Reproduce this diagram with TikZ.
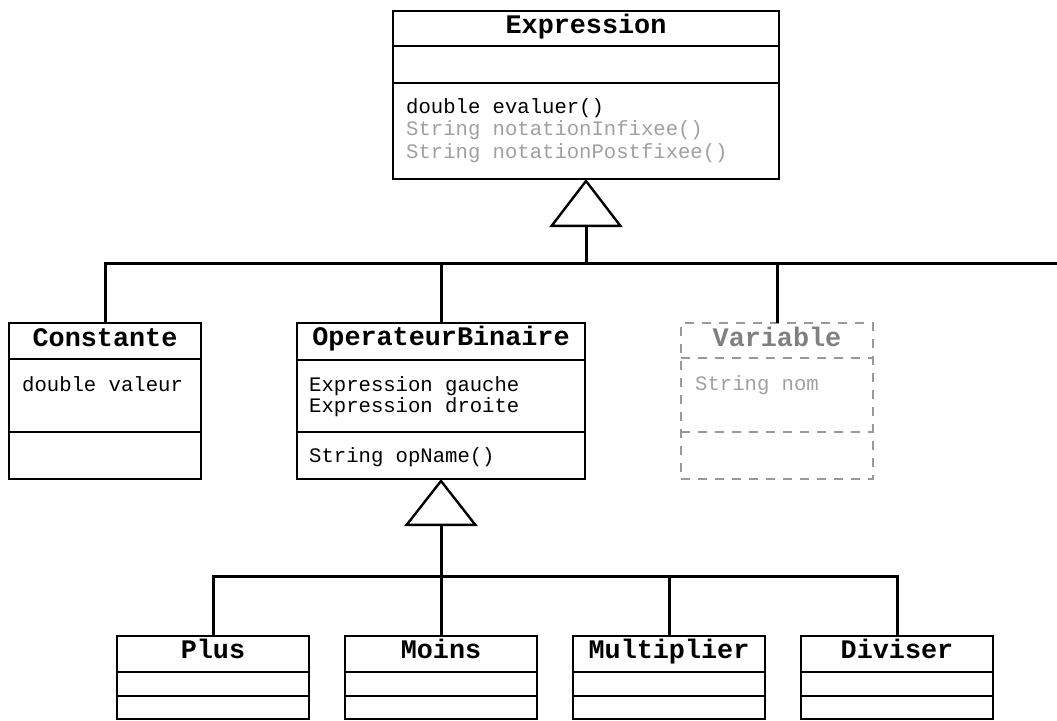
\documentclass[tikz,border=0pt]{standalone}
\usepackage{fontspec}
\setmainfont{Liberation Mono}
\usetikzlibrary{arrows.meta}
\definecolor{umlgray}{HTML}{A0A0A0}
\definecolor{umlvar}{HTML}{808080}
\definecolor{umldash}{HTML}{999999}
\begin{document}
\begin{tikzpicture}[x=1pt,y=-1pt,
  cls/.style={draw=black, line width=1.3pt, inner sep=0pt, outer sep=0pt, anchor=north west},
  dcls/.style={draw=umldash, line width=1.2pt, dash pattern=on 9pt off 8pt, inner sep=0pt, outer sep=0pt, anchor=north west},
  sepline/.style={draw=black, line width=1.3pt},
  dsep/.style={draw=umldash, line width=1.2pt, dash pattern=on 9pt off 8pt},
  ttl/.style={anchor=base, inner sep=0pt, font=\fontsize{26.8}{30}\selectfont\bfseries},
  body/.style={anchor=base west, inner sep=0pt, align=left, font=\fontsize{20.6}{22}\selectfont},
  conn/.style={draw=black, line width=3pt},
  gen/.style={conn, -{Triangle[open, length=#1, width=73pt, line width=2.4pt]}}
]
\useasboundingbox (0,0) rectangle (1057,720);

% Expression
\node[cls, minimum width=386pt, minimum height=168pt] (expr) at (393,11) {};
\draw[sepline] ([yshift=-35pt]expr.north west) -- ([yshift=-35pt]expr.north east);
\draw[sepline] ([yshift=-72pt]expr.north west) -- ([yshift=-72pt]expr.north east);
\node[ttl] (exprT) at (586,33.5) {Expression};
% anchor base = baseline of the last line
\node[body, font=\fontsize{20.6}{22.5}\selectfont] (exprM) at (406,158.3) {double evaluer()\\\textcolor{umlgray}{String notationInfixee()}\\\textcolor{umlgray}{String notationPostfixee()}};

% Constante
\node[cls, minimum width=192pt, minimum height=156pt] (cst) at (9,323) {};
\draw[sepline] ([yshift=-36pt]cst.north west) -- ([yshift=-36pt]cst.north east);
\draw[sepline] ([yshift=-109pt]cst.north west) -- ([yshift=-109pt]cst.north east);
\node[ttl] (cstT) at (105,346.5) {Constante};
\node[body] (cstA) at (22,391.5) {double valeur};

% OperateurBinaire
\node[cls, minimum width=288pt, minimum height=156pt] (opb) at (297,323) {};
\draw[sepline] ([yshift=-37pt]opb.north west) -- ([yshift=-37pt]opb.north east);
\draw[sepline] ([yshift=-109pt]opb.north west) -- ([yshift=-109pt]opb.north east);
\node[ttl] (opbT) at (441,345.5) {OperateurBinaire};
\node[body, font=\fontsize{20.6}{21}\selectfont] (opbA) at (309,412) {Expression gauche\\Expression droite};
\node[body] (opbM1) at (309,462.5) {String opName()};

% Variable (dashed)
\node[dcls, minimum width=192pt, minimum height=156pt] (var) at (681,323) {};
\draw[dsep] ([yshift=-35pt]var.north west) -- ([yshift=-35pt]var.north east);
\draw[dsep] ([yshift=-109pt]var.north west) -- ([yshift=-109pt]var.north east);
\node[ttl, text=umlvar] (varT) at (777,346.5) {Variable};
\node[body, text=umlgray] (varA) at (695,390) {String nom};

% Bottom classes
\node[cls, minimum width=192pt, minimum height=83pt] (plus) at (117,636) {};
\node[cls, minimum width=192pt, minimum height=83pt] (moins) at (345,636) {};
\node[cls, minimum width=192pt, minimum height=83pt] (mult) at (573,636) {};
\node[cls, minimum width=192pt, minimum height=83pt] (div) at (801,636) {};
\foreach \b in {plus,moins,mult,div}{
  \draw[sepline] ([yshift=-36pt]\b.north west) -- ([yshift=-36pt]\b.north east);
  \draw[sepline] ([yshift=-60pt]\b.north west) -- ([yshift=-60pt]\b.north east);
}
\node[ttl] (plusT) at (213,658) {Plus};
\node[ttl] (moinsT) at (441,658) {Moins};
\node[ttl] (multT) at (669,658) {Multiplier};
\node[ttl] (divT) at (897,658) {Diviser};

% Connectors: Expression hierarchy
\coordinate (busA) at (1060,263);
\draw[conn] (cst.north) |- (busA);
\draw[conn] (opb.north) -- (opb.north |- busA);
\draw[conn] (var.north) -- (var.north |- busA);
\draw[gen=48pt] (expr.south |- busA) -- (expr.south);

% Connectors: OperateurBinaire hierarchy
\coordinate (busB) at (441,576);
\draw[conn] (plus.north) |- (busB) -| (div.north);
\draw[conn] (mult.north) -- (mult.north |- busB);
\draw[conn] (moins.north) -- (busB);
\draw[gen=47pt] (busB) -- (opb.south);
\end{tikzpicture}
\end{document}
